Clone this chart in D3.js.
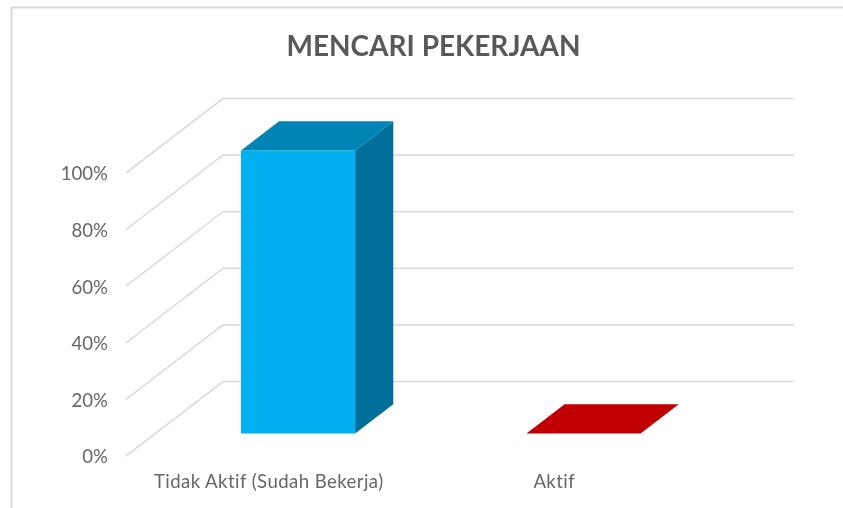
<!DOCTYPE html>
<html>
<head>
<meta charset="utf-8">
<script src="https://cdn.jsdelivr.net/npm/d3@7"></script>
<style>
html,body{margin:0;padding:0;background:#fff;overflow:hidden}
svg{display:block;filter:blur(0.35px)}
text{font-family:Lato,"Open Sans",sans-serif}
</style>
</head>
<body>
<script>
const titleText = "MENCARI PEKERJAAN";
const categories = ["Tidak Aktif (Sudah Bekerja)", "Aktif"];
const values = [1, 0];
const frontColors = ["#00B0F0", "#C00000"];
const topColors = ["#0084B5", "#C00000"];
const sideColors = ["#00709B", "#C00000"];
const yTicks = [0, 0.2, 0.4, 0.6, 0.8, 1];

const W = 843, H = 508;
const depthX = 97, depthY = 74.5;
const zFront = 0.302, zBack = 0.695;

const svg = d3.select("body").append("svg").attr("width", W).attr("height", H);

// chart frame
svg.append("path")
  .attr("d", "M11.5,508V7.5H843")
  .attr("fill", "none").attr("stroke", "#d9d9d9").attr("stroke-width", 2);

svg.append("text").attr("x", 433.5).attr("y", 56).attr("text-anchor", "middle")
  .attr("font-size", 28).attr("font-weight", 700).attr("fill", "#595959")
  .text(titleText);

const x = d3.scaleBand().domain(categories).range([126, 697]).paddingInner(0).paddingOuter(0);
const y = d3.scaleLinear().domain([0, 1]).range([456, 173]);

// project (screen x on the front edge, value, depth 0..1) to the page
const px = (sx, z) => sx + z * depthX;
const py = (v, z) => y(v) - z * depthY;

// gridlines: side wall + back wall
const grid = svg.append("g").attr("fill", "none").attr("stroke", "#dcdcdc").attr("stroke-width", 1.6);
yTicks.forEach(t => {
  grid.append("path").attr("d", d3.line()([
    [px(x.range()[0], 0), py(t, 0)],
    [px(x.range()[0], 1), py(t, 1)],
    [px(x.range()[1], 1), py(t, 1)]
  ]));
});

// y axis labels
const yAxis = svg.append("g").attr("transform", "translate(115,1)")
  .call(d3.axisLeft(y).tickValues(yTicks).tickFormat(d3.format(".0%")).tickSize(0).tickPadding(7));
yAxis.select(".domain").remove();
yAxis.selectAll("text").attr("font-size", 18.6).attr("fill", "#666666")
  .style("font-family", "Lato,'Open Sans',sans-serif");

// category labels
svg.append("g").selectAll("text").data(categories).join("text")
  .attr("x", d => x(d) + x.bandwidth() / 2)
  .attr("y", 488).attr("text-anchor", "middle")
  .attr("font-size", 18.6).attr("letter-spacing", 0.42).attr("fill", "#666666").text(d => d);

// bars
const barW = x.bandwidth() * 0.4;
const line = d3.line();
categories.forEach((c, i) => {
  const v = values[i];
  const l = x(c) + (x.bandwidth() - barW) / 2;
  const r = l + barW;
  const g = svg.append("g");
  if (v > 0) {
    g.append("path").attr("fill", sideColors[i]).attr("d", line([
      [px(r, zFront), py(0, zFront)], [px(r, zBack), py(0, zBack)],
      [px(r, zBack), py(v, zBack)], [px(r, zFront), py(v, zFront)]
    ]) + "Z");
    g.append("path").attr("fill", frontColors[i]).attr("d", line([
      [px(l, zFront), py(0, zFront)], [px(r, zFront), py(0, zFront)],
      [px(r, zFront), py(v, zFront)], [px(l, zFront), py(v, zFront)]
    ]) + "Z");
  }
  g.append("path").attr("fill", topColors[i]).attr("d", line([
    [px(l, zFront), py(v, zFront)], [px(r, zFront), py(v, zFront)],
    [px(r, zBack), py(v, zBack)], [px(l, zBack), py(v, zBack)]
  ]) + "Z");
});
</script>
</body>
</html>
